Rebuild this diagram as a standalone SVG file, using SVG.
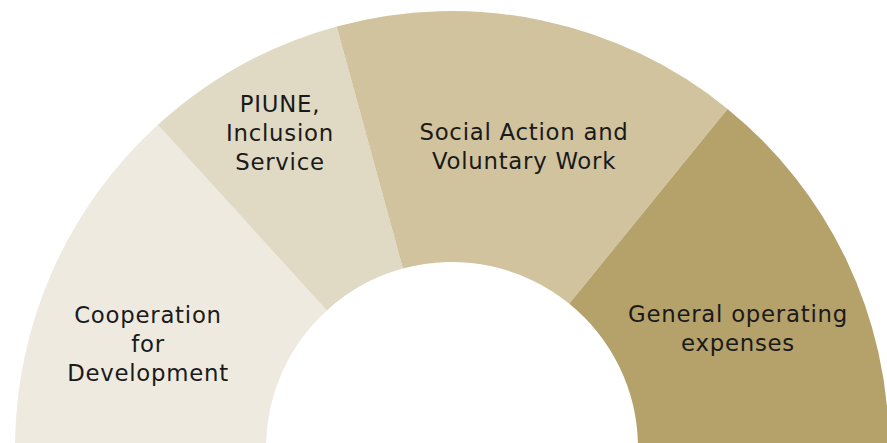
<svg xmlns="http://www.w3.org/2000/svg" width="887" height="443" viewBox="0 0 887 443">
<style>
.lbl{font-family:"DejaVu Sans","Liberation Sans",sans-serif;font-size:22.8px;letter-spacing:0.75px;fill:#1a1a1a;text-anchor:middle}
</style>
<rect width="887" height="443" fill="#ffffff"/>
<g id="coop">
<path d="M15,448 A437,437 0 0 1 157.9,124.8 L326.8,310.4 A186,186 0 0 0 266,448 Z" fill="#EEEAE0"/>
<text class="lbl" x="148" y="323">Cooperation</text>
<text class="lbl" x="148" y="352">for</text>
<text class="lbl" x="148" y="381">Development</text>
</g>
<g id="piune">
<path d="M157.9,124.8 A437,437 0 0 1 336.7,26.5 L402.9,268.6 A186,186 0 0 0 326.8,310.4 Z" fill="#E0D9C3"/>
<text class="lbl" x="280" y="112">PIUNE,</text>
<text class="lbl" x="280" y="141">Inclusion</text>
<text class="lbl" x="280" y="170">Service</text>
</g>
<g id="social">
<path d="M336.7,26.5 A437,437 0 0 1 727.6,108.9 L569.3,303.7 A186,186 0 0 0 402.9,268.6 Z" fill="#D0C39E"/>
<text class="lbl" x="524" y="140">Social Action and</text>
<text class="lbl" x="524" y="169">Voluntary Work</text>
</g>
<g id="general">
<path d="M727.6,108.9 A437,437 0 0 1 889,448 L638,448 A186,186 0 0 0 569.3,303.7 Z" fill="#B5A16A"/>
<text class="lbl" x="738" y="322">General operating</text>
<text class="lbl" x="738" y="351">expenses</text>
</g>
<g id="connectors"></g>
</svg>
